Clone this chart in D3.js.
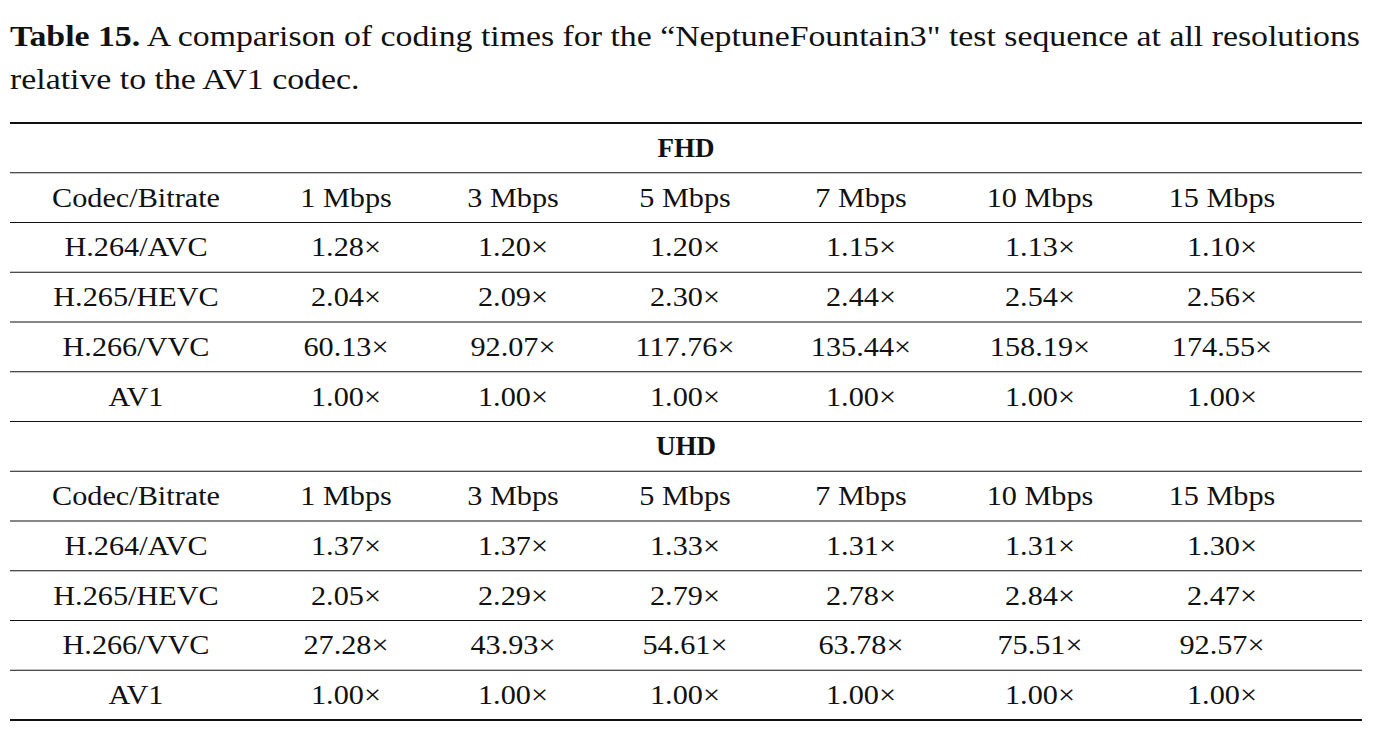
<!DOCTYPE html>
<html><head><meta charset="utf-8">
<script src="https://cdn.jsdelivr.net/npm/d3@7"></script>
<style>body{margin:0;background:#fff}</style>
</head><body>
<script>
const bitrates = ["1 Mbps", "3 Mbps", "5 Mbps", "7 Mbps", "10 Mbps", "15 Mbps"];
const codecs = ["H.264/AVC", "H.265/HEVC", "H.266/VVC", "AV1"];
const fhdValues = [
  [1.28, 1.20, 1.20, 1.15, 1.13, 1.10],
  [2.04, 2.09, 2.30, 2.44, 2.54, 2.56],
  [60.13, 92.07, 117.76, 135.44, 158.19, 174.55],
  [1.00, 1.00, 1.00, 1.00, 1.00, 1.00]
];
const uhdValues = [
  [1.37, 1.37, 1.33, 1.31, 1.31, 1.30],
  [2.05, 2.29, 2.79, 2.78, 2.84, 2.47],
  [27.28, 43.93, 54.61, 63.78, 75.51, 92.57],
  [1.00, 1.00, 1.00, 1.00, 1.00, 1.00]
];
const sections = [{name: "FHD", values: fhdValues}, {name: "UHD", values: uhdValues}];

const W = 1390, H = 738;
const font = "'Liberation Serif', 'DejaVu Serif', serif";
const svg = d3.select("body").append("svg").attr("width", W).attr("height", H);

// caption, stretched to the reference's wider face
const cap = svg.append("text").attr("x", 10).attr("y", 46)
  .style("font-family", font).style("font-size", "30px").attr("fill", "#111");
cap.append("tspan").attr("font-weight", "bold").text("Table 15.");
cap.append("tspan").text(" A comparison of coding times for the \u201cNeptuneFountain3\" test sequence at all resolutions");
const cap2 = svg.append("text").attr("x", 10).attr("y", 89).text("relative to the AV1 codec.")
  .style("font-family", font).style("font-size", "30px").attr("fill", "#111");
const ratio = 1350 / cap.node().getComputedTextLength();
cap.attr("textLength", 1350).attr("lengthAdjust", "spacingAndGlyphs");
cap2.attr("textLength", cap2.node().getComputedTextLength() * ratio).attr("lengthAdjust", "spacingAndGlyphs");

// column positions
const colCenters = [136, 346, 513, 685, 861, 1040, 1222];
const x = d3.scaleOrdinal().domain(d3.range(7)).range(colCenters);
const nRows = 12;
const y = d3.scaleLinear().domain([0, nRows]).range([123, 720]);

const rows = [];
sections.forEach(s => {
  rows.push({type: "section", label: s.name});
  rows.push({type: "header", cells: ["Codec/Bitrate"].concat(bitrates)});
  s.values.forEach((v, i) => rows.push({type: "data", cells: [codecs[i]].concat(v.map(d => d.toFixed(2) + "\u00d7"))}));
});

const g = svg.append("g").style("font-family", font).style("font-size", "27px").attr("fill", "#111");
rows.forEach((r, i) => {
  const cy = y(i + 0.5) + 9;
  if (r.type === "section") {
    g.append("text").attr("x", (10 + 1362) / 2).attr("y", cy).attr("text-anchor", "middle")
      .attr("font-weight", "bold").text(r.label);
  } else {
    g.selectAll(null).data(r.cells).enter().append("text")
      .attr("x", (d, j) => x(j)).attr("y", cy).attr("text-anchor", "middle").text(d => d)
      .each(function () {
        const w = this.getComputedTextLength();
        d3.select(this).attr("textLength", w * 1.12).attr("lengthAdjust", "spacingAndGlyphs");
      });
  }
});

// rules
d3.range(nRows + 1).forEach(i => {
  const thick = i === 0 || i === nRows;
  svg.append("line").attr("x1", 10).attr("x2", 1362)
    .attr("y1", y(i)).attr("y2", y(i))
    .attr("stroke", "#111").attr("stroke-width", thick ? 2.2 : 1.2);
});
</script>
</body></html>
